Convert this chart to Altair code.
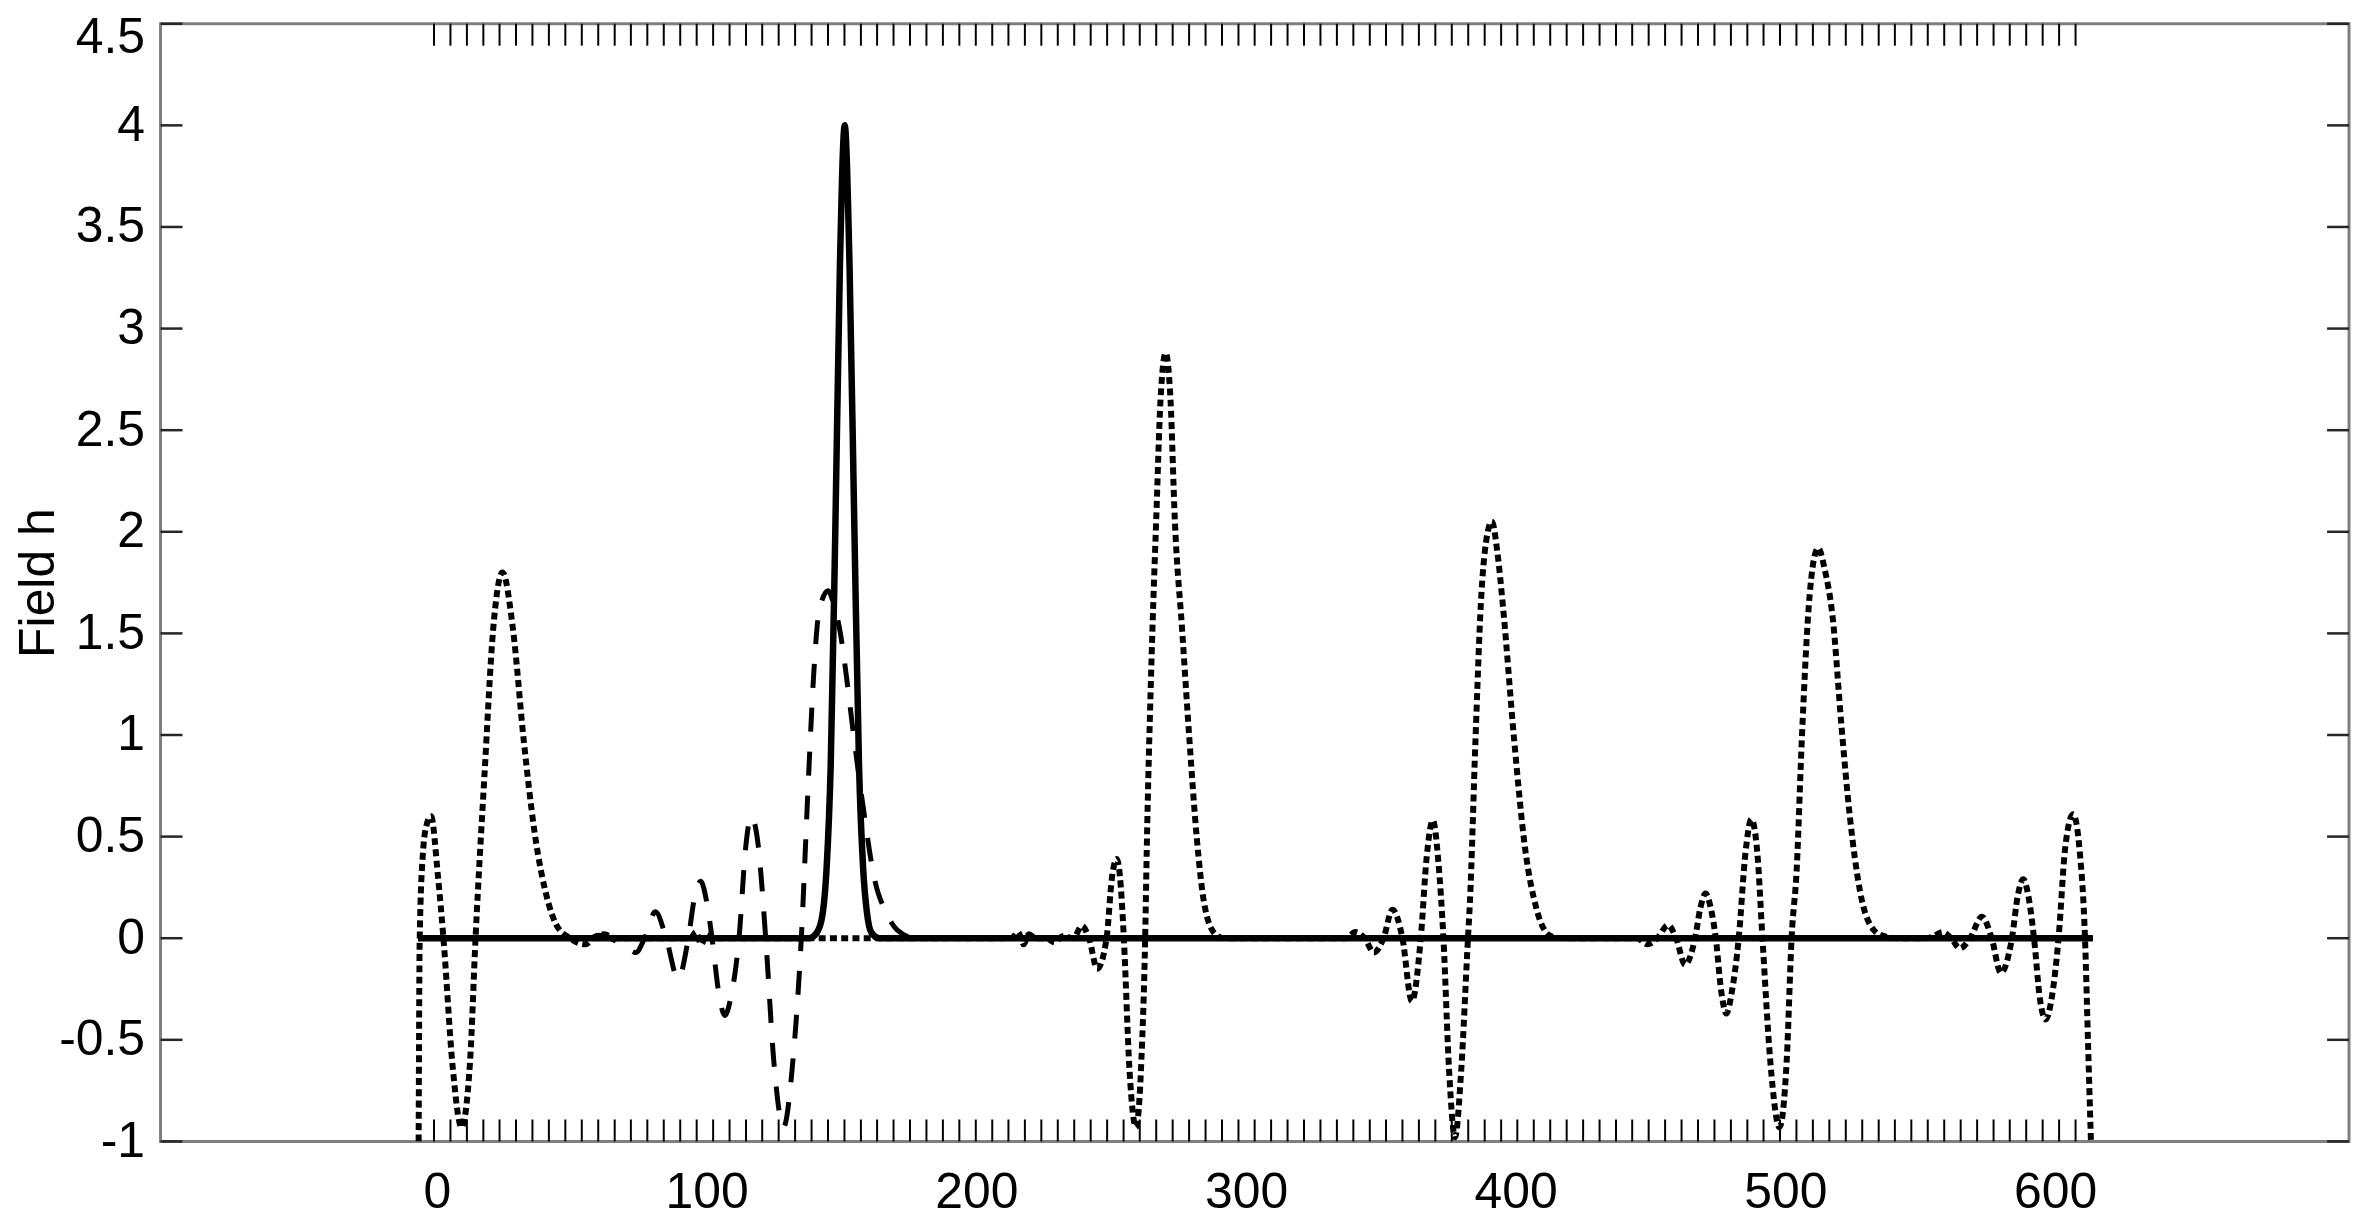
"""
Field h along the chain: the starting pulse (solid), a later state (dashed)
and the late state (dotted), with the lattice sites marked on top and bottom.
"""

import altair as alt
import pandas as pd

# solid curve: the starting pulse
solid_x = [-7, 138, 141, 143, 144.5, 146, 147.7, 149.4, 151.2, 153, 154.8,
           156.5, 158, 159.5, 161, 164, 614]
solid_h = [0, 0, 0.03, 0.12, 0.35, 0.85, 2.0, 3.3, 4.0, 3.3, 2.0,
           0.85, 0.35, 0.12, 0.03, 0, 0]

# dashed curve
dash_x = [-7, 56, 60, 64, 70, 73.7, 77, 81, 85, 89.4, 93.2, 95.5, 97.8, 100,
          102, 104.5, 106.7, 109, 112, 114.5, 116.5, 119, 121.9, 125, 128.5,
          132, 135.1, 137.8, 139.7, 141.6, 145, 147, 149.6, 152, 154.2, 158.2,
          162.1, 166.8, 170.7, 177.5, 614]
dash_h = [0, 0, 0.015, 0, -0.04, -0.07, 0, 0.13, 0, -0.2, 0, 0.2, 0.28, 0.18,
          0, -0.27, -0.38, -0.29, 0, 0.45, 0.6, 0.47, 0, -0.62, -0.93,
          -0.6, 0, 0.8, 1.3, 1.6, 1.71, 1.65, 1.5, 1.27, 1.03, 0.63,
          0.3, 0.12, 0.04, 0, 0]

# dotted curve
dot_x = [-6.8, -6.4, -5.2, -3.8, -2.2, 0.4, 2.4, 5.8, 9.1, 12.3, 14.3, 17.6,
         20.9, 24.3, 28.1, 32.2, 36.1, 41.4, 44.1, 49.3, 55, 58, 62, 66,
         94, 96, 98, 100, 102,
         210, 213, 215.5, 217.5, 219.5, 222, 226, 229, 232,
         236, 239.1, 241.8, 244.8, 248.3, 250.3, 252.1, 253.6, 254.7, 256.8,
         259.2, 261.2, 262.6, 263.2, 264.7, 265.3, 266.7, 268.3, 270.2, 272,
         273.6, 276.3, 279, 281.7, 284.5, 288.6, 292,
         337, 340.6, 344, 347.4, 351, 354.3, 358, 361.5, 364.8, 367, 369.3,
         371.3, 373.2, 375.3, 377.5, 379.8, 382.3, 383, 385.1, 387.1, 389,
         391.2, 393.2, 395.3, 399.4, 403.5, 407.6, 413.1, 418,
         445, 448.8, 452.5, 456.5, 459.5, 462.8, 466.5, 468.5, 470.4, 472.3,
         474.2, 476.2, 478.1, 480.2, 482.7, 485.2, 487.4, 489.6, 491.5, 494.5,
         497.8, 500.5, 502.3, 504.2, 506.1, 508.6, 510.5, 512.2, 514.5, 517.6,
         520.7, 523.9, 527.7, 532.8, 536.6, 542,
         552, 555, 558.3, 561.5, 564.7, 568.5, 572.9, 576.5, 579.9, 584,
         586.2, 588.2, 590.2, 592.2, 594.4, 596.5, 598.8, 601.3, 603.8, 606.7,
         609.2, 611.1, 612.3, 613.3]
dot_h = [-1.0, 0, 0.42, 0.56, 0.6, 0.3, 0, -0.63, -0.93, -0.6, 0, 0.8,
         1.53, 1.8, 1.53, 0.97, 0.53, 0.17, 0.07, 0, -0.03, 0, 0.02, 0,
         0, 0.03, -0.03, 0.02, 0,
         0, 0, 0.03, -0.03, 0.02, 0, 0, -0.02, 0.01,
         0, 0.06, 0, -0.15, 0, 0.3, 0.39, 0.25, 0, -0.65,
         -0.93, -0.6, 0, 0.44, 1.25, 1.52, 2.06, 2.65, 2.88, 2.65,
         2.06, 1.52, 0.98, 0.5, 0.17, 0.02, 0,
         0, 0.03, 0, -0.07, 0, 0.14, 0, -0.31, 0, 0.4, 0.58,
         0.38, 0, -0.65, -0.98, -0.65, 0, 0.17, 0.98, 1.65, 1.95,
         2.05, 1.9, 1.63, 0.98, 0.44, 0.15, 0.01, 0,
         0, -0.03, 0, 0.064, 0, -0.13, 0, 0.15, 0.22, 0.15,
         0, -0.26, -0.37, -0.26, 0, 0.42, 0.585, 0.42, 0, -0.62,
         -0.93, -0.6, 0, 0.34, 0.98, 1.62, 1.86, 1.92, 1.82, 1.57,
         1.06, 0.6, 0.23, 0.04, 0.01, 0,
         0, 0.01, 0.03, 0, -0.05, 0, 0.106, 0, -0.17, 0,
         0.21, 0.29, 0.2, 0, -0.3, -0.4, -0.29, 0, 0.45, 0.61,
         0.42, 0, -0.55, -1.0]

# lattice sites, marked along the top and bottom edges
sites = [-1.1, 5.0, 11.1, 17.2, 23.2, 29.3, 35.4, 41.5, 47.6, 53.7,
         59.8, 65.9, 71.9, 78.0, 84.1, 90.2, 96.3, 102.4, 108.5, 114.6,
         120.6, 126.7, 132.8, 138.9, 145.0, 151.1, 157.2, 163.2, 169.3, 175.4,
         181.5, 187.6, 193.7, 199.8, 205.9, 211.9, 218.0, 224.1, 230.2, 236.3,
         242.4, 248.5, 254.6, 260.6, 266.7, 272.8, 278.9, 285.0, 291.1, 297.2,
         303.2, 309.3, 315.4, 321.5, 327.6, 333.7, 339.8, 345.9, 351.9, 358.0,
         364.1, 370.2, 376.3, 382.4, 388.5, 394.6, 400.6, 406.7, 412.8, 418.9,
         425.0, 431.1, 437.2, 443.2, 449.3, 455.4, 461.5, 467.6, 473.7, 479.8,
         485.9, 491.9, 498.0, 504.1, 510.2, 516.3, 522.4, 528.5, 534.6, 540.6,
         546.7, 552.8, 558.9, 565.0, 571.1, 577.2, 583.2, 589.3, 595.4, 601.5,
         607.6]

x_ticks = [0, 100, 200, 300, 400, 500, 600]
y_ticks = [-1, -0.5, 0, 0.5, 1, 1.5, 2, 2.5, 3, 3.5, 4, 4.5]

FONT = "Liberation Sans"
W, H = 2195, 1121
TICK_LEN = 22

x_scale = alt.Scale(domain=[-102.5, 709], nice=False, zero=False)
y_scale = alt.Scale(domain=[-1, 4.5], nice=False, zero=False)

# the same axis objects go on every layer so that they merge into one
x_axis = alt.Axis(
    values=x_ticks, title=None, grid=False, domain=False, ticks=False, tickSize=0,
    labelFont=FONT, labelFontSize=50, labelColor="black", labelPadding=26,
    labelFlush=False, labelOverlap=False,
)
y_axis = alt.Axis(
    values=y_ticks, labelExpr="'' + datum.value", grid=False, domain=False,
    ticks=False, tickSize=0,
    labelFont=FONT, labelFontSize=50, labelColor="black", labelPadding=16,
    labelFlush=False, labelOverlap=False,
    # the top label sits lower so that it stays on the page
    labelOffset=alt.condition("datum.value == 4.5", alt.value(14), alt.value(0)),
    title="Field h", titleFont=FONT, titleFontSize=50, titleFontWeight="normal",
    titleColor="black", titleAngle=270, titleAlign="center",
    titleBaseline="alphabetic", titleX=-107, titleY=H / 2,
)


def xq(field):
    return alt.X(field, type="quantitative", scale=x_scale, axis=x_axis)


def yq(field):
    return alt.Y(field, type="quantitative", scale=y_scale, axis=y_axis)


def curve(xs, hs, width, dash=None):
    """one black line through the read-off points"""
    style = dict(color="black", strokeWidth=width, interpolate="monotone", clip=True)
    if dash:
        style["strokeDash"] = dash
    return alt.Chart(pd.DataFrame({"x": xs, "h": hs})).mark_line(**style).encode(
        x=xq("x"), y=yq("h"),
    )


solid = curve(solid_x, solid_h, 6.5)
dashed = curve(dash_x, dash_h, 5, dash=[24, 20])
dotted = curve(dot_x, dot_h, 6, dash=[7, 4.3])

# inward ticks on the left and right edges
tick_df = pd.DataFrame({"v": y_ticks})
left_ticks = alt.Chart(tick_df).mark_rule(color="#262626", strokeWidth=2.5).encode(
    y=yq("v"), x=alt.value(0), x2=alt.value(TICK_LEN),
)
right_ticks = alt.Chart(tick_df).mark_rule(color="#262626", strokeWidth=2.5).encode(
    y=yq("v"), x=alt.value(W - TICK_LEN), x2=alt.value(W),
)

# site marks
site_df = pd.DataFrame({"site": sites})
top_sites = alt.Chart(site_df).mark_rule(color="black", strokeWidth=2).encode(
    x=xq("site"), y=alt.value(0), y2=alt.value(TICK_LEN),
)
bottom_sites = alt.Chart(site_df).mark_rule(color="black", strokeWidth=2).encode(
    x=xq("site"), y=alt.value(H - TICK_LEN), y2=alt.value(H),
)

chart = alt.layer(
    solid, top_sites, bottom_sites, left_ticks, right_ticks, dashed, dotted
).properties(
    width=W,
    height=H,
    autosize=alt.AutoSizeParams(type="none"),
    padding={"left": 153, "top": 14, "right": 5, "bottom": 75},
    background="white",
).configure_view(
    stroke="#7f7f7f",
    strokeWidth=3,
)

chart.save("out.html", embed_options={"renderer": "svg", "actions": False})
